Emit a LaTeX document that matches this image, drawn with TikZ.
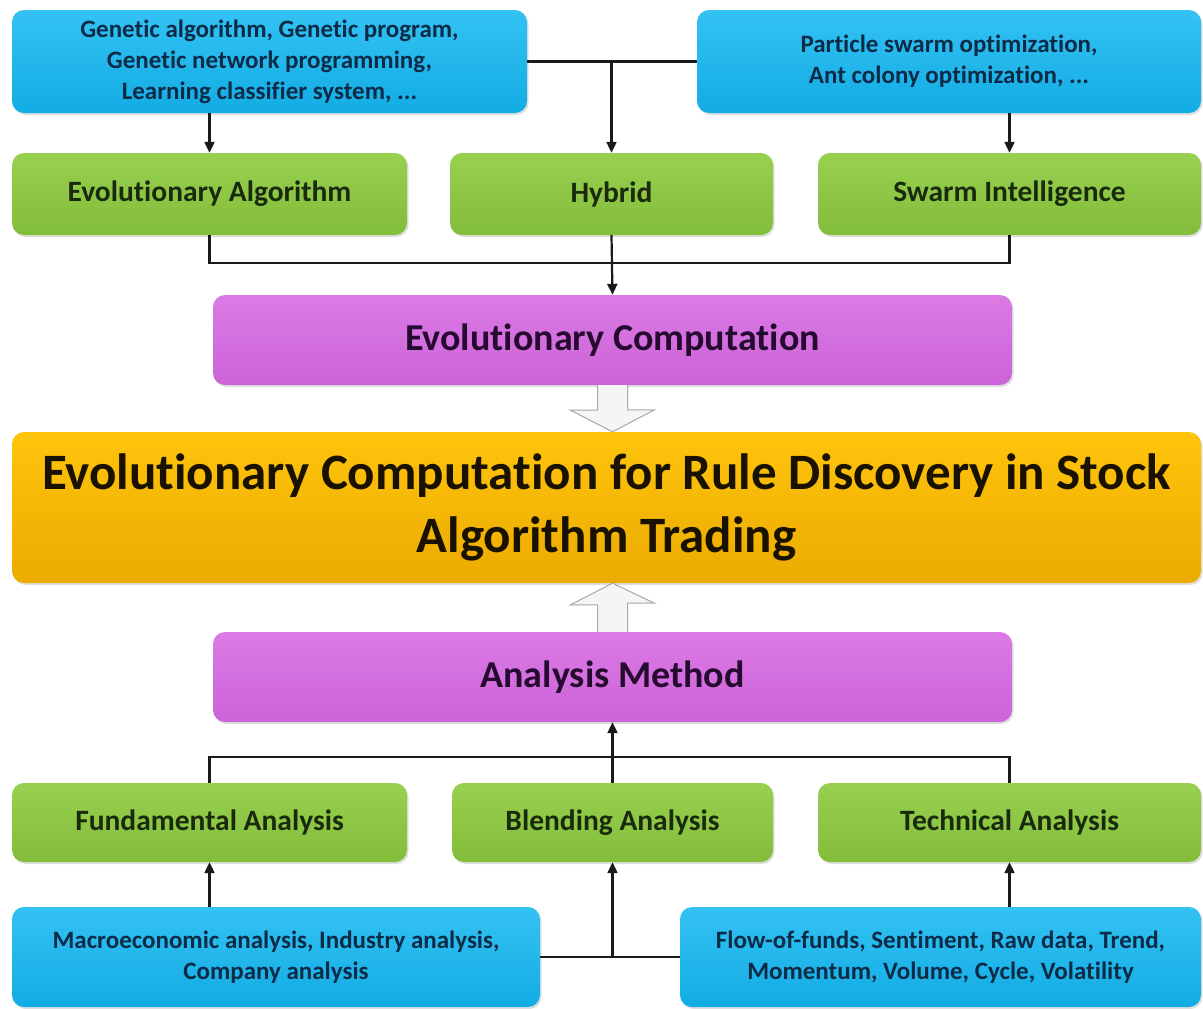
\documentclass[tikz,border=0pt]{standalone}
\usepackage{fontspec}
\setmainfont{Carlito}[Ligatures=NoCommon]
\usetikzlibrary{arrows.meta,shadows,calc}

\definecolor{bluetop}{HTML}{34C2F3}
\definecolor{bluebot}{HTML}{12ACE4}
\definecolor{greentop}{HTML}{98D04F}
\definecolor{greenbot}{HTML}{82BD3A}
\definecolor{purptop}{HTML}{DC7AE5}
\definecolor{purpbot}{HTML}{CB63D8}
\definecolor{orgtop}{HTML}{FFC40C}
\definecolor{orgbot}{HTML}{EBAB00}
\definecolor{bluetext}{HTML}{0B2B47}
\definecolor{greentext}{HTML}{1A2A0C}
\definecolor{purptext}{HTML}{260A30}
\definecolor{orgtext}{HTML}{1A1200}
\definecolor{linkcol}{HTML}{1A1A1A}
\definecolor{hollowfill}{HTML}{F5F5F5}
\definecolor{hollowedge}{HTML}{A8A8A8}

\tikzset{
  box/.style={rounded corners=12pt, align=center, inner sep=0pt,
    font=\bfseries,
    drop shadow={opacity=0.25, shadow xshift=1.5pt, shadow yshift=-2pt}},
  bluebox/.style={box, top color=bluetop, bottom color=bluebot,
    text=bluetext, font=\bfseries\fontsize{25}{31}\selectfont},
  greenbox/.style={box, top color=greentop, bottom color=greenbot,
    text=greentext, font=\bfseries\fontsize{29.5}{34}\selectfont},
  purplebox/.style={box, top color=purptop, bottom color=purpbot,
    text=purptext, font=\bfseries\fontsize{38}{44}\selectfont},
  mainbox/.style={box, top color=orgtop, bottom color=orgbot,
    text=orgtext, font=\bfseries\fontsize{51}{63}\selectfont},
  link/.style={draw=linkcol, line width=2.2pt},
  linkarrow/.style={link, -{Triangle[length=11pt,width=10pt]}},
  hollow/.style={fill=hollowfill, draw=hollowedge, line width=1pt, line join=miter}
}

\begin{document}
\begin{tikzpicture}[x=1pt,y=-1pt]
\useasboundingbox (0,0) rectangle (1203,1009);

% source boxes, top row
\node[bluebox, minimum width=515pt, minimum height=103pt] (srcEA) at (269.5,61.5)
  {Genetic algorithm, Genetic program,\\Genetic network programming,\\Learning classifier system, ...};
\node[bluebox, minimum width=504pt, minimum height=103pt] (srcSI) at (949,61.5)
  {Particle swarm optimization,\\Ant colony optimization, ...};

% method families
\node[greenbox, minimum width=395pt, minimum height=82pt] (ea) at (209.5,194) {Evolutionary Algorithm};
\node[greenbox, minimum width=323pt, minimum height=82pt] (hy) at (611.5,194) {Hybrid};
\node[greenbox, minimum width=383pt, minimum height=82pt] (si) at (1009.5,194) {Swarm Intelligence};

\node[purplebox, minimum width=799pt, minimum height=90pt] (ec) at (612.5,340) {Evolutionary Computation};

% central topic
\node[mainbox, minimum width=1189pt, minimum height=151pt] (main) at (606.5,507.5)
  {Evolutionary Computation for Rule Discovery in Stock\\Algorithm Trading};

\node[purplebox, minimum width=799pt, minimum height=90pt] (am) at (612.5,677) {Analysis Method};

% analysis families
\node[greenbox, minimum width=395pt, minimum height=79pt] (fa) at (209.5,822.5) {Fundamental Analysis};
\node[greenbox, minimum width=321pt, minimum height=79pt] (ba) at (612.5,822.5) {Blending Analysis};
\node[greenbox, minimum width=383pt, minimum height=79pt] (ta) at (1009.5,822.5) {Technical Analysis};

% data sources, bottom row
\node[bluebox, minimum width=528pt, minimum height=100pt] (srcFA) at (276,957)
  {Macroeconomic analysis, Industry analysis,\\Company analysis};
\node[bluebox, minimum width=521pt, minimum height=100pt] (srcTA) at (940.5,957)
  {Flow-of-funds, Sentiment, Raw data, Trend,\\Momentum, Volume, Cycle, Volatility};

% top connectors
\draw[link] (srcEA.east) -- (srcSI.west);
\coordinate (topjoin) at (hy.north |- srcEA.east);
\draw[linkarrow] (topjoin) -- (hy.north);
\draw[linkarrow] (ea.north |- srcEA.south) -- (ea.north);
\draw[linkarrow] (si.north |- srcSI.south) -- (si.north);

\coordinate (midjoin) at ($(hy.south)+(0,28)$);
\draw[link] (ea.south) |- (midjoin) -| (si.south);
\draw[linkarrow] (hy.south) -- (ec.north);

% bottom connectors
\coordinate (lowjoin) at ($(ba.north)+(0,-26)$);
\draw[link] (fa.north) |- (lowjoin) -| (ta.north);
\draw[linkarrow] (ba.north) -- (am.south);
\draw[linkarrow] (fa.south |- srcFA.north) -- (fa.south);
\draw[linkarrow] (ta.south |- srcTA.north) -- (ta.south);
\draw[link] (srcFA.east) -- (srcTA.west);
\draw[linkarrow] (ba.south |- srcFA.east) -- (ba.south);

% hollow block arrows into the central topic
\draw[hollow] ($(ec.south)+(-15,0)$) -- ++(0,25) -- ++(-27,0)
  -- (main.north -| ec.south) -- ++(42,-22) -- ++(-27,0) -- ($(ec.south)+(15,0)$);
\draw[hollow] ($(am.north)+(-15,0)$) -- ++(0,-27) -- ++(-27,0)
  -- (main.south -| am.north) -- ++(42,20) -- ++(-27,0) -- ($(am.north)+(15,0)$);
\end{tikzpicture}
\end{document}
